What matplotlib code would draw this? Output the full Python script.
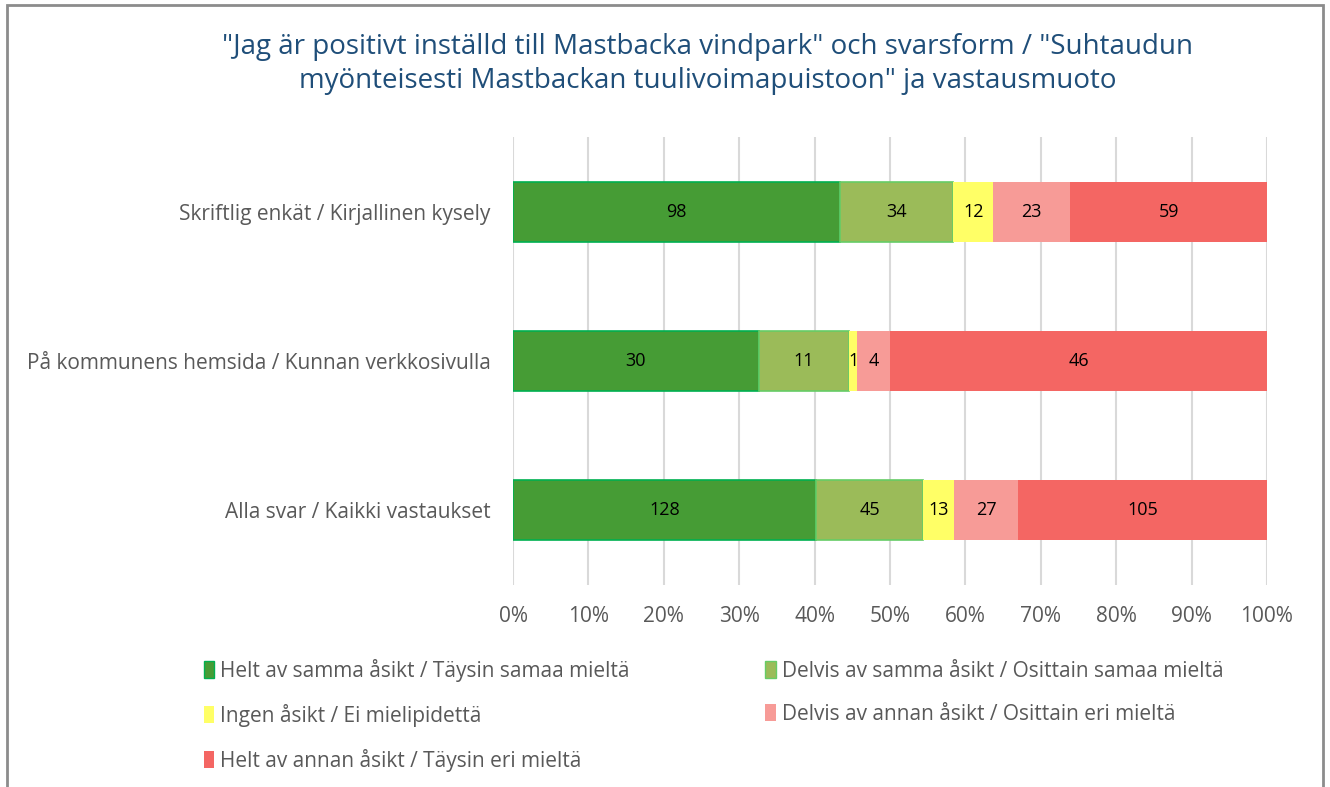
import matplotlib.pyplot as plt
import numpy as np
from matplotlib.patches import Rectangle, Patch

plt.rcParams["font.family"] = ["Open Sans", "DejaVu Sans"]

categories = [
    "Skriftlig enkät / Kirjallinen kysely",
    "På kommunens hemsida / Kunnan verkkosivulla",
    "Alla svar / Kaikki vastaukset",
]
series_names = [
    "Helt av samma åsikt / Täysin samaa mieltä",
    "Delvis av samma åsikt / Osittain samaa mieltä",
    "Ingen åsikt / Ei mielipidettä",
    "Delvis av annan åsikt / Osittain eri mieltä",
    "Helt av annan åsikt / Täysin eri mieltä",
]
helt_samma = [98, 30, 128]
delvis_samma = [34, 11, 45]
ingen = [12, 1, 13]
delvis_annan = [23, 4, 27]
helt_annan = [59, 46, 105]

colors = ["#469C35", "#9BBB59", "#FFFF66", "#F79B97", "#F46663"]
edges = ["#00B050", "#66CC66", "none", "none", "none"]

counts = np.array([helt_samma, delvis_samma, ingen, delvis_annan, helt_annan], dtype=float)
shares = counts / counts.sum(axis=0) * 100

fig = plt.figure(figsize=(13.3, 7.87), dpi=100)
ax = fig.add_axes([513 / 1330, 1 - 585 / 787, 754 / 1330, 448 / 787])

y = np.arange(len(categories))
left = np.zeros(len(categories))
for i in range(len(series_names)):
    ax.barh(y, shares[i], left=left, height=0.40, color=colors[i],
            edgecolor=edges[i], linewidth=1.2, label=series_names[i], zorder=3)
    for j in range(len(categories)):
        ax.text(left[j] + shares[i][j] / 2, y[j], str(int(counts[i][j])),
                ha="center", va="center", fontsize=13, color="black", zorder=4)
    left += shares[i]

ax.set_xlim(0, 100)
ax.set_ylim(len(categories) - 0.5, -0.5)
ax.set_yticks(y)
ax.set_yticklabels(categories, fontsize=15, color="#595959")
ax.set_xticks(np.arange(0, 101, 10))
ax.set_xticklabels([f"{v}%" for v in range(0, 101, 10)], fontsize=15, color="#595959")
ax.tick_params(length=0, axis="y", pad=16)
ax.tick_params(length=0, axis="x", pad=15)
ax.grid(axis="x", color="#D9D9D9", linewidth=1.5, zorder=0)
for s in ax.spines.values():
    s.set_visible(False)

fig.text(0.532, 1 - 64 / 787,
         "\"Jag är positivt inställd till Mastbacka vindpark\" och svarsform / \"Suhtaudun\n"
         "myönteisesti Mastbackan tuulivoimapuistoon\" ja vastausmuoto",
         ha="center", va="center", fontsize=20, color="#1F4E79", linespacing=1.3)

handles = [Patch(facecolor=colors[i], edgecolor=edges[i]) for i in range(5)]
order = [0, 2, 4, 1, 3]
leg = fig.legend([handles[i] for i in order], [series_names[i] for i in order],
                 loc="upper left", bbox_to_anchor=(185 / 1330, 1 - 640 / 787),
                 ncol=2, frameon=False, fontsize=15, labelcolor="#595959",
                 handlelength=0.5, handleheight=0.9, handletextpad=0.3,
                 columnspacing=6.5, labelspacing=1.05)

fig.patches.append(Rectangle((7 / 1330, -0.1), 1316 / 1330, 1.1 - 5 / 787,
                             transform=fig.transFigure, fill=False,
                             edgecolor="#8C8C8C", linewidth=2))

fig.savefig("out.png", dpi=100)
